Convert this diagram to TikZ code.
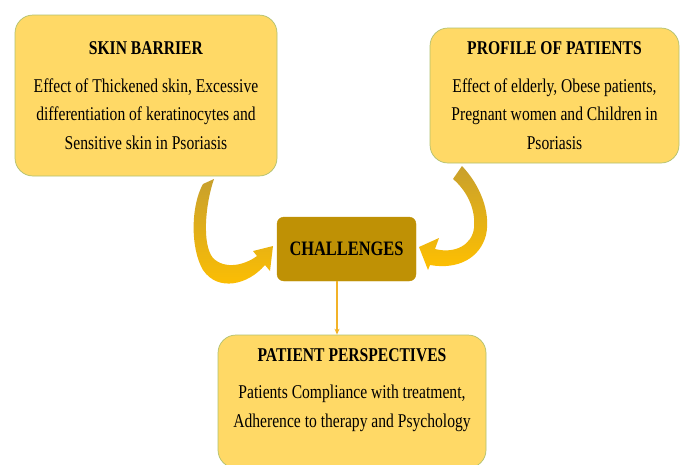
\documentclass[tikz,border=0pt]{standalone}
\usepackage{fontspec}
\setmainfont{Liberation Serif}[FakeStretch=0.8]
\usepackage{tikz}
\usetikzlibrary{arrows.meta}
\definecolor{cardfill}{RGB}{255,217,102}
\definecolor{cardline}{RGB}{176,192,110}
\definecolor{hubfill}{RGB}{191,145,5}
\definecolor{arrowdark}{RGB}{200,160,45}
\definecolor{arrowbright}{RGB}{255,192,0}
\definecolor{linkcol}{RGB}{242,178,40}
\newcommand{\cardfont}{\fontsize{19.5}{28.5}\selectfont}
\newcommand{\cardtitle}[1]{\textbf{#1}\\[9pt]}

\begin{document}
\begin{tikzpicture}[x=1pt,y=-1pt,
  card/.style={draw=cardline,line width=0.7pt,fill=cardfill,rounded corners=18pt,
    align=center,inner sep=0pt,font=\cardfont},
  hub/.style={draw=hubfill,fill=hubfill,rounded corners=7pt,inner sep=0pt,
    font=\fontsize{20.5}{24}\selectfont\bfseries},
  curvearrow/.style={top color=arrowdark,bottom color=arrowbright,draw=none},
  link/.style={draw=linkcol,line width=1.1pt,-{Stealth[length=6pt,width=5pt]}}]
  \useasboundingbox (0,0) rectangle (681,464);
  \node[card,minimum width=262pt,minimum height=161pt] (skin) at (146,95.5)
    {\cardtitle{SKIN BARRIER}Effect of Thickened skin, Excessive\\
     differentiation of keratinocytes and\\Sensitive skin in Psoriasis};
  \node[card,minimum width=249pt,minimum height=135pt] (profile) at (554.5,95.5)
    {\cardtitle{PROFILE OF PATIENTS}Effect of elderly, Obese patients,\\
     Pregnant women and Children in\\Psoriasis};
  \node[hub,minimum width=139pt,minimum height=64pt] (hub) at (346.5,249) {CHALLENGES};
  \node[card,minimum width=268pt,minimum height=133pt] (patient) at (352,401.5) {};
  \node[align=center,inner sep=0pt,font=\cardfont] (patient-text)
    at ([yshift=11.5pt]patient.center)
    {\cardtitle{PATIENT PERSPECTIVES}Patients Compliance with treatment,\\
     Adherence to therapy and Psychology};
  \shade[curvearrow] (203,184) -- (214,179)
    .. controls (205,205) and (202,245) .. (213,258)
    .. controls (225,270) and (245,265) .. (257,256)
    -- (253,251) -- (273,246) -- (270,271) -- (265,265)
    .. controls (248,285) and (218,292) .. (203,270)
    .. controls (190,248) and (191,205) .. cycle;
  \shade[curvearrow] (453,179) -- (462,166)
    .. controls (480,185) and (491,212) .. (486,235)
    .. controls (480,258) and (458,270) .. (430,265)
    -- (428,270) -- (419,247) -- (439,238) -- (435,249)
    .. controls (455,254) and (472,245) .. (474,228)
    .. controls (476,208) and (466,190) .. cycle;
  \coordinate (drop) at ([xshift=-9.5pt]hub.south);
  \draw[link] (drop) -- (drop |- patient.north);
\end{tikzpicture}
\end{document}
